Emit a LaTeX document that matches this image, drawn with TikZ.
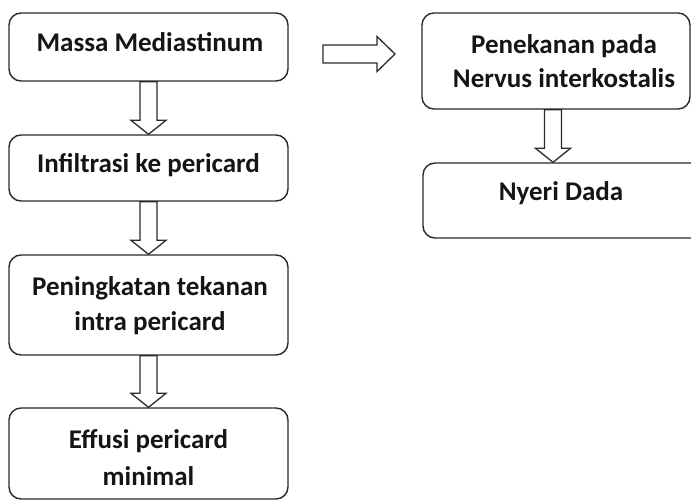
\documentclass[tikz,border=0pt]{standalone}
\usepackage{fontspec}
\setmainfont{Carlito}
\usetikzlibrary{calc}
\definecolor{edge}{HTML}{2A2A2A}
\definecolor{ink}{HTML}{151515}
\tikzset{
  box/.style={draw=edge, line width=1.4pt, rounded corners=12pt, inner sep=0pt, fill=white},
  txt/.style={text=ink, font=\bfseries\fontsize{27pt}{34pt}\selectfont, align=center, inner sep=0pt, anchor=base},
  barrow/.style={draw=edge, line width=1.3pt, line join=miter, fill=white}
}
\newcommand{\flowdown}[2]{%
  \draw[barrow] ($(#1)+(-8.5,0)$) -- ($(#2)+(-8.5,-14)$) -- ($(#2)+(-17.5,-14)$) -- (#2)
    -- ($(#2)+(17.5,-14)$) -- ($(#2)+(8.5,-14)$) -- ($(#1)+(8.5,0)$) -- cycle;}
\begin{document}
\begin{tikzpicture}[x=1pt, y=-1pt]
\useasboundingbox (0,0) rectangle (691,501);
% left column boxes
\node[box, minimum width=279pt, minimum height=68pt] (b1) at (148.5,47) {};
\node[box, minimum width=279pt, minimum height=66pt] (b2) at (148.5,168) {};
\node[box, minimum width=279pt, minimum height=100pt] (b3) at (148.5,305) {};
\node[box, minimum width=279pt, minimum height=91pt] (b4) at (148.5,453.5) {};
% right column boxes
\node[box, minimum width=268pt, minimum height=96pt] (b5) at (556,61) {};
\node[box, minimum width=310pt, minimum height=75pt] (b6) at (578,200.5) {};
% texts (base anchor = baseline of the last line)
\node[txt] (t1) at (150,51) {Massa Mediastinum};
\node[txt] (t2) at (148.5,172) {Infiltrasi ke pericard};
\node[txt, font=\bfseries\fontsize{27pt}{35pt}\selectfont] (t3) at (150,330) {Peningkatan tekanan\\intra pericard};
\node[txt, font=\bfseries\fontsize{27pt}{37pt}\selectfont] (t4) at (148.5,485) {Effusi pericard\\minimal};
\node[txt] (t5) at (564,87) {Penekanan pada\\Nervus interkostalis};
\node[txt] (t6) at (561,200) {Nyeri Dada};
% vertical block arrows
\flowdown{b1.south}{b2.north}
\flowdown{b2.south}{b3.north}
\flowdown{b3.south}{b4.north}
\coordinate (s5) at ($(b5.south)+(-3,0)$);
\coordinate (e6) at (s5 |- b6.north);
\flowdown{s5}{e6}
% horizontal block arrow
\coordinate (h1) at (323,54);
\coordinate (h2) at (395,54);
\draw[barrow] ($(h1)+(0,-9)$) -- ($(h2)+(-18,-9)$) -- ($(h2)+(-18,-17.5)$) -- (h2)
  -- ($(h2)+(-18,17.5)$) -- ($(h2)+(-18,9)$) -- ($(h1)+(0,9)$) -- cycle;
\end{tikzpicture}
\end{document}
